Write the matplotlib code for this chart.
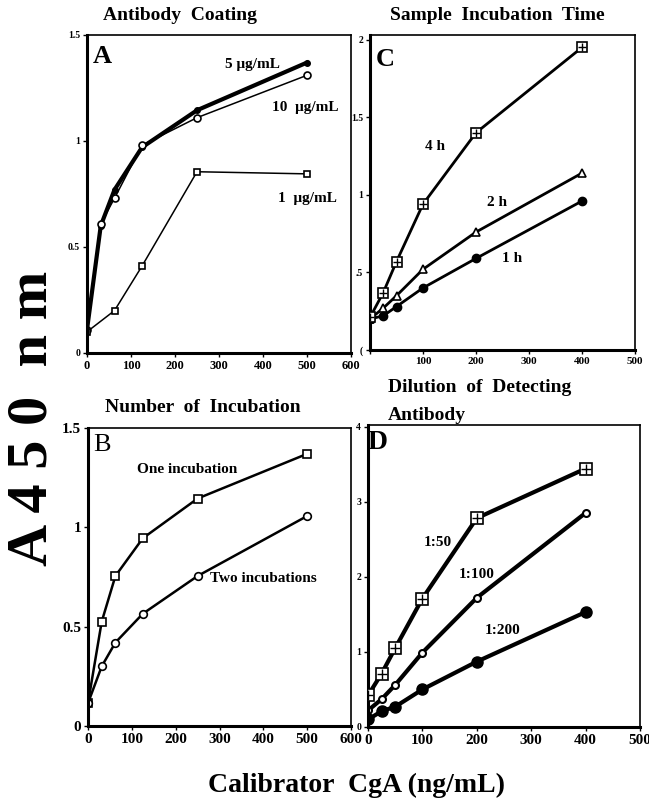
import matplotlib
matplotlib.use("Agg")
import matplotlib.pyplot as plt

plt.rcParams['font.family'] = ['Liberation Serif', 'DejaVu Serif']
plt.rcParams['font.weight'] = 'bold'

""" ******* data read off the figure ******** """

# A: antibody coating
conc_a = [0, 31.25, 62.5, 125, 250, 500]
coat_5 = [0.11, 0.60, 0.77, 0.97, 1.145, 1.37]
coat_10 = [0.11, 0.61, 0.73, 0.98, 1.11, 1.31]
conc_a1 = [0, 62.5, 125, 250, 500]
coat_1 = [0.10, 0.20, 0.41, 0.855, 0.845]

# B: number of incubations
conc_b = [0, 31.25, 62.5, 125, 250, 500]
one_inc = [0.115, 0.525, 0.755, 0.945, 1.145, 1.37]
two_inc = [0.115, 0.30, 0.42, 0.565, 0.755, 1.057]

# C: sample incubation time
conc_c = [0, 25, 50, 100, 200, 400]
inc_4h = [0.21, 0.37, 0.57, 0.94, 1.40, 1.95]
inc_2h = [0.20, 0.27, 0.35, 0.52, 0.76, 1.14]
inc_1h = [0.20, 0.22, 0.28, 0.40, 0.59, 0.96]

# D: dilution of detecting antibody
conc_d = [0, 25, 50, 100, 200, 400]
dil_50 = [0.42, 0.71, 1.05, 1.71, 2.78, 3.44]
dil_100 = [0.22, 0.37, 0.56, 0.99, 1.72, 2.85]
dil_200 = [0.10, 0.21, 0.27, 0.50, 0.87, 1.53]

W, H = 649, 811


def px_axes(fig, left, top, right, bottom):
    # axes from pixel box of the reference
    return fig.add_axes([left / W, 1 - bottom / H, (right - left) / W, (bottom - top) / H])


def style(ax, xs, ys):
    for s in ['left', 'bottom']:
        ax.spines[s].set_linewidth(2.2)
    for s in ['top', 'right']:
        ax.spines[s].set_linewidth(1.2)
    ax.tick_params(direction='out', length=3, width=1, pad=2)
    ax.tick_params(axis='x', labelsize=xs)
    ax.tick_params(axis='y', labelsize=ys)


def boxplus(ax, x, y, ms, lw):
    ax.plot(x, y, '-', color='black', lw=lw, marker='s', ms=ms, mfc='white', mec='black', mew=1.2, zorder=3)
    ax.plot(x, y, linestyle='none', marker='+', ms=ms * 0.9, mec='black', mew=1.0, zorder=4)


fig = plt.figure(figsize=(W / 100, H / 100), dpi=100)

""" ******* A ******** """
axA = px_axes(fig, 87, 35, 351, 353)
axA.plot(conc_a, coat_5, '-', color='black', lw=3, marker='o', ms=4, mfc='black')
axA.plot(conc_a, coat_10, '-', color='black', lw=1.1, marker='o', ms=5, mfc='white', mew=1.2)
axA.plot(conc_a1, coat_1, '-', color='black', lw=1.1, marker='s', ms=5, mfc='white', mew=1.2)
axA.set_xlim(0, 600)
axA.set_ylim(0, 1.5)
axA.set_xticks([0, 100, 200, 300, 400, 500, 600])
axA.set_yticks([0, 0.5, 1, 1.5])
axA.set_yticklabels(['0', '0.5', '1', '1.5'])
style(axA, 9, 7)
axA.text(0.02, 0.97, 'A', transform=axA.transAxes, fontsize=19, ha='left', va='top')
axA.text(377, 1.36, '5 μg/mL', fontsize=11, ha='center', va='center')
axA.text(495, 1.16, '10  μg/mL', fontsize=11, ha='center', va='center')
axA.text(500, 0.73, '1  μg/mL', fontsize=11, ha='center', va='center')
fig.text(180 / W, 1 - 15 / H, 'Antibody  Coating', fontsize=14, ha='center', va='center')

""" ******* C ******** """
axC = px_axes(fig, 370, 35, 635, 350)
boxplus(axC, conc_c, inc_4h, 7, 2)
axC.plot(conc_c, inc_2h, '-', color='black', lw=2, marker='^', ms=6, mfc='white', mew=1.2)
axC.plot(conc_c, inc_1h, '-', color='black', lw=2, marker='o', ms=6, mfc='black')
axC.set_xlim(0, 500)
axC.set_ylim(0, 2.03)
axC.set_xticks([0, 100, 200, 300, 400, 500])
axC.set_xticklabels(['', '100', '200', '300', '400', '500'])
axC.set_yticks([0, 0.5, 1, 1.5, 2])
axC.set_yticklabels(['(', '.5', '1', '1.5', '2'])
style(axC, 8, 7)
axC.text(0.02, 0.96, 'C', transform=axC.transAxes, fontsize=19, ha='left', va='top')
axC.text(123, 1.31, '4 h', fontsize=11, ha='center', va='center')
axC.text(240, 0.95, '2 h', fontsize=11, ha='center', va='center')
axC.text(268, 0.59, '1 h', fontsize=11, ha='center', va='center')
fig.text(497 / W, 1 - 15 / H, 'Sample  Incubation  Time', fontsize=14, ha='center', va='center')

""" ******* B ******** """
axB = px_axes(fig, 88, 428, 351, 726)
axB.plot(conc_b, one_inc, '-', color='black', lw=1.8, marker='s', ms=5.5, mfc='white', mew=1.2)
axB.plot(conc_b, two_inc, '-', color='black', lw=1.8, marker='o', ms=5.5, mfc='white', mew=1.2)
axB.set_xlim(0, 600)
axB.set_ylim(0, 1.5)
axB.set_xticks([0, 100, 200, 300, 400, 500, 600])
axB.set_yticks([0, 0.5, 1, 1.5])
axB.set_yticklabels(['0', '0.5', '1', '1.5'])
style(axB, 11, 11)
axB.text(0.02, 0.98, 'B', transform=axB.transAxes, fontsize=19, fontweight='normal', ha='left', va='top')
axB.text(227, 1.29, 'One incubation', fontsize=11, ha='center', va='center')
axB.text(400, 0.74, 'Two incubations', fontsize=11, ha='center', va='center')
fig.text(203 / W, 1 - 408 / H, 'Number  of  Incubation', fontsize=14, ha='center', va='center')

""" ******* D ******** """
axD = px_axes(fig, 368, 425, 640, 727)
boxplus(axD, conc_d, dil_50, 8, 3)
axD.plot(conc_d, dil_100, '-', color='black', lw=3, marker='o', ms=5, mfc='white', mew=1.5)
axD.plot(conc_d, dil_200, '-', color='black', lw=3, marker='o', ms=8, mfc='black')
axD.set_xlim(0, 500)
axD.set_ylim(0, 4.02)
axD.set_xticks([0, 100, 200, 300, 400, 500])
axD.set_yticks([0, 1, 2, 3, 4])
style(axD, 11, 7)
axD.text(0.0, 0.985, 'D', transform=axD.transAxes, fontsize=20, ha='left', va='top')
axD.text(129, 2.45, '1:50', fontsize=11, ha='center', va='center')
axD.text(200, 2.03, '1:100', fontsize=11, ha='center', va='center')
axD.text(248, 1.28, '1:200', fontsize=11, ha='center', va='center')
fig.text(388 / W, 1 - 388 / H, 'Dilution  of  Detecting', fontsize=14, ha='left', va='center')
fig.text(388 / W, 1 - 416 / H, 'Antibody', fontsize=14, ha='left', va='center')

""" ******* shared labels ******** """
fig.text(33 / W, 1 - 418 / H, 'A 4 5 0  n m', fontsize=42, rotation=90, ha='center', va='center')
fig.text(356 / W, 1 - 785 / H, 'Calibrator  CgA (ng/mL)', fontsize=20, ha='center', va='center')

plt.savefig('out.png', dpi=100)
